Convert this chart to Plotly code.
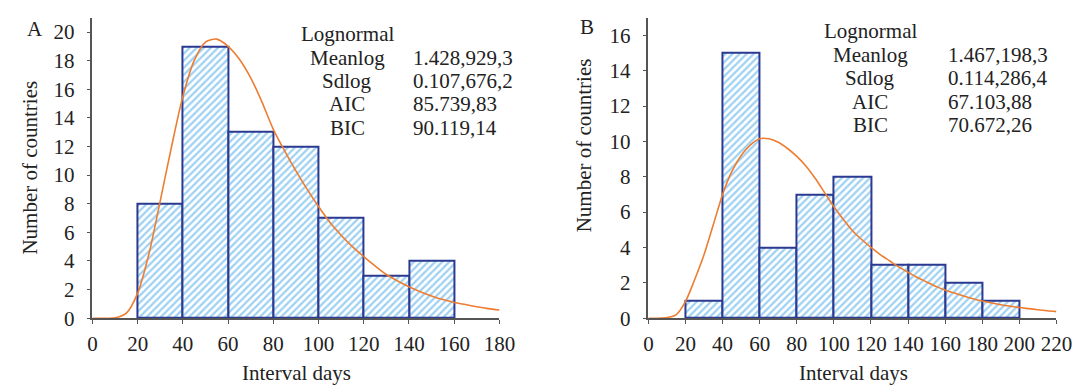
import plotly.graph_objects as go

W, H = 1084, 391

# ---------------- data ----------------
bins_a = [20, 40, 60, 80, 100, 120, 140]
counts_a = [8, 19, 13, 12, 7, 3, 4]
curve_a_x = [0, 5, 10, 15, 20, 25, 30, 35, 40, 45, 50, 55, 60, 65, 70, 75, 80, 85, 90,
             95, 100, 105, 110, 115, 120, 125, 130, 135, 140, 145, 150, 155, 160, 165,
             170, 175, 180]
curve_a_y = [0, 0, 0.02, 0.35, 1.75, 4.5, 8.2, 12.0, 15.5, 18.0, 19.3, 19.5, 19.0, 18.1,
             16.8, 15.1, 13.2, 11.7, 10.3, 9.0, 7.8, 6.7, 5.8, 5.0, 4.3, 3.65, 3.05, 2.6,
             2.2, 1.85, 1.55, 1.3, 1.1, 0.95, 0.8, 0.67, 0.57]

bins_b = [20, 40, 60, 80, 100, 120, 140, 160, 180]
counts_b = [1, 15, 4, 7, 8, 3, 3, 2, 1]
curve_b_x = [0, 5, 10, 15, 20, 25, 30, 35, 40, 45, 50, 55, 60, 65, 70, 75, 80, 85, 90,
             95, 100, 105, 110, 115, 120, 125, 130, 135, 140, 145, 150, 155, 160, 165,
             170, 175, 180, 185, 190, 195, 200, 205, 210, 215, 220]
curve_b_y = [0, 0, 0.03, 0.2, 0.95, 2.2, 3.6, 5.3, 7.0, 8.3, 9.2, 9.8, 10.15, 10.15, 9.95,
             9.6, 9.15, 8.6, 7.9, 7.1, 6.3, 5.6, 4.95, 4.45, 4.0, 3.6, 3.25, 2.9, 2.6,
             2.3, 2.05, 1.8, 1.6, 1.42, 1.25, 1.1, 0.97, 0.86, 0.76, 0.68, 0.6, 0.54,
             0.48, 0.42, 0.37]

stats_labels = ["Meanlog", "Sdlog", "AIC", "BIC"]
stats_a = ["1.428,929,3", "0.107,676,2", "85.739,83", "90.119,14"]
stats_b = ["1.467,198,3", "0.114,286,4", "67.103,88", "70.672,26"]

bin_width = 20
x_ticks_a = list(range(0, 181, 20))
x_ticks_b = list(range(0, 221, 20))
y_ticks_a = list(range(0, 21, 2))
y_ticks_b = list(range(0, 17, 2))

# ---------------- style ----------------
FONT = "Liberation Serif, Times New Roman, serif"
FS = 21
TXT = "#222222"
EDGE = "#2B3990"
HATCH = "#9ED1F2"
ORANGE = "#ED7D31"
AXIS = "#555555"


def px(x):
    return x / W


def py(y):
    return 1 - y / H


fig = go.Figure()

for bins, counts, xa, ya in [(bins_a, counts_a, "x", "y"), (bins_b, counts_b, "x2", "y2")]:
    fig.add_trace(go.Bar(
        x=[b + bin_width / 2 for b in bins], y=counts, width=bin_width,
        marker=dict(color="white",
                    line=dict(color=EDGE, width=2),
                    pattern=dict(shape="/", fgcolor=HATCH, bgcolor="white",
                                 size=5, solidity=0.45, fillmode="replace")),
        xaxis=xa, yaxis=ya, showlegend=False, hoverinfo="skip"))

fig.add_trace(go.Scatter(x=curve_a_x, y=curve_a_y, mode="lines",
                         line=dict(color=ORANGE, width=1.6, shape="spline", smoothing=0.8),
                         xaxis="x", yaxis="y", showlegend=False))
fig.add_trace(go.Scatter(x=curve_b_x, y=curve_b_y, mode="lines",
                         line=dict(color=ORANGE, width=1.6, shape="spline", smoothing=0.8),
                         xaxis="x2", yaxis="y2", showlegend=False))

ydom = [py(320), py(10)]
axis_common = dict(showline=True, linecolor=AXIS, linewidth=1.5, ticks="outside",
                   ticklen=4, tickwidth=1.2, tickcolor=AXIS, showgrid=False,
                   zeroline=False, tickfont=dict(family=FONT, size=FS, color=TXT),
                   fixedrange=True)

fig.update_layout(
    width=W, height=H, margin=dict(l=0, r=0, t=0, b=0),
    paper_bgcolor="white", plot_bgcolor="white", bargap=0,
    xaxis=dict(domain=[px(81), px(496)], range=[0, 180], tickvals=x_ticks_a,
               anchor="y", ticklabelstandoff=2, **axis_common),
    yaxis=dict(domain=ydom, range=[0, 21], tickvals=y_ticks_a, anchor="x",
               ticklabelstandoff=8, **axis_common),
    xaxis2=dict(domain=[px(648), px(1064)], range=[0, 220], tickvals=x_ticks_b,
                anchor="y2", ticklabelstandoff=2, **axis_common),
    yaxis2=dict(domain=ydom, range=[0, 17], tickvals=y_ticks_b, anchor="x2",
                ticklabelstandoff=8, **axis_common),
)

ann = []


def text(x, y, s, xanchor="center", size=FS, angle=0):
    ann.append(dict(x=px(x), y=py(y), xref="paper", yref="paper", text=s,
                    showarrow=False, xanchor=xanchor, yanchor="middle",
                    textangle=angle, font=dict(family=FONT, size=size, color=TXT)))


# panel A
text(22, 22, "A")
text(341, 27, "Lognormal")
rows_a = [51.5, 75.5, 99.5, 124]
for lab, val, yy in zip(stats_labels, stats_a, rows_a):
    text(341, yy, lab)
    text(406, yy, val, xanchor="left")
text(17, 165, "Number of countries", angle=-90)
text(289, 377, "Interval days")

# panel B
text(585, 20, "B")
text(874, 24, "Lognormal")
rows_b = [48.3, 72, 96.5, 120.5]
for lab, val, yy in zip(stats_labels, stats_b, rows_b):
    text(874, yy, lab)
    text(951, yy, val, xanchor="left")
text(582, 142, "Number of countries", angle=-90)
text(857, 377, "Interval days")

fig.update_layout(annotations=ann)
fig.write_html("out.html")
